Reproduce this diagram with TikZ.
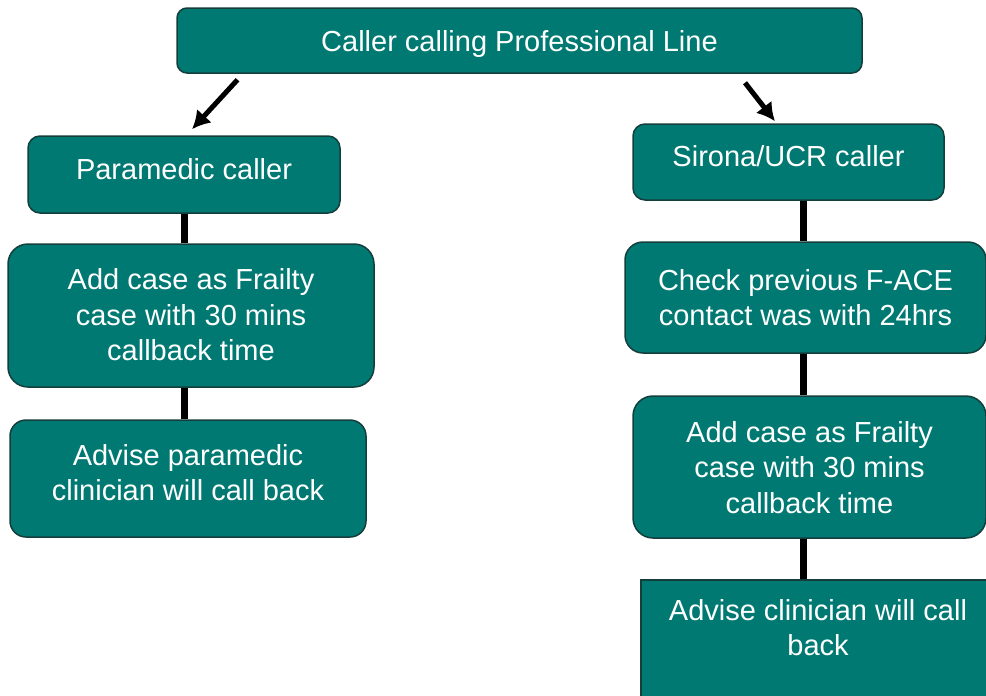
\documentclass[tikz,border=0pt]{standalone}
\usepackage{fontspec}
\setmainfont{Liberation Sans}
\usepackage{tikz}
\usetikzlibrary{arrows.meta}
\definecolor{boxteal}{RGB}{0,121,115}
\definecolor{boxedge}{RGB}{20,62,60}

\begin{document}
\begin{tikzpicture}[>={Latex[length=18bp,width=20bp]}]
\tikzstyle{flowbox}=[draw=boxedge,line width=1.5bp,fill=boxteal,text=white,align=center,rounded corners=12bp,inner sep=0pt,font=\fontsize{29bp}{35.5bp}\selectfont]%
\tikzstyle{link}=[line width=7bp]%
\tikzstyle{arr}=[->,line width=5bp]%
  \useasboundingbox (0bp,0bp) rectangle (986bp,-696bp);
  \clip (0bp,0bp) rectangle (986bp,-696bp);

  \node (call) at (519.5bp,-40.5bp) [flowbox,rounded corners=10bp,minimum width=685bp,minimum height=65bp,text depth=0bp] {Caller calling Professional Line};
  \node (para) at (184bp,-174.5bp) [flowbox,minimum width=312bp,minimum height=77bp,text depth=12bp] {Paramedic caller};
  \node (addl) at (191bp,-315.5bp) [flowbox,rounded corners=20bp,minimum width=366bp,minimum height=143bp,text depth=2bp] {Add case as Frailty\\case with 30 mins\\callback time};
  \node (advp) at (188bp,-478.5bp) [flowbox,rounded corners=16bp,minimum width=356bp,minimum height=117bp,text depth=12bp] {Advise paramedic\\clinician will call back};
  \node (sir) at (788.5bp,-162bp) [flowbox,minimum width=311bp,minimum height=76bp,text depth=12bp] {Sirona/UCR caller};
  \node (check) at (805.5bp,-297.5bp) [flowbox,rounded corners=18bp,minimum width=361bp,minimum height=111bp] {Check previous F-ACE\\contact was with 24hrs};
  \node (addr) at (809.5bp,-467bp) [flowbox,rounded corners=20bp,minimum width=353bp,minimum height=142bp,text depth=0bp] {Add case as Frailty\\case with 30 mins\\callback time};
  \node (advc) at (818bp,-650bp) [flowbox,sharp corners,minimum width=354bp,minimum height=140bp,text depth=45bp] {Advise clinician will call\\back};

  \draw [arr] ([shift={(-282bp,-6bp)}]call.south) -- ([shift={(8bp,6bp)}]para.north);
  \draw [arr] ([shift={(225.5bp,-9bp)}]call.south) -- ([shift={(-13.5bp,2bp)}]sir.north);
  \draw [link] (para.south) -- (para.south |- addl.north);
  \draw [link] (para.south |- addl.south) -- (para.south |- advp.north);
  \draw [link] ([xshift=-2bp]check.north |- sir.south) -- ([xshift=-2bp]check.north);
  \draw [link] ([xshift=-2bp]check.south) -- ([xshift=-2bp]check.south |- addr.north);
  \draw [link] ([xshift=-2bp]check.south |- addr.south) -- ([xshift=-2bp]check.south |- advc.north);

\end{tikzpicture}
\end{document}
